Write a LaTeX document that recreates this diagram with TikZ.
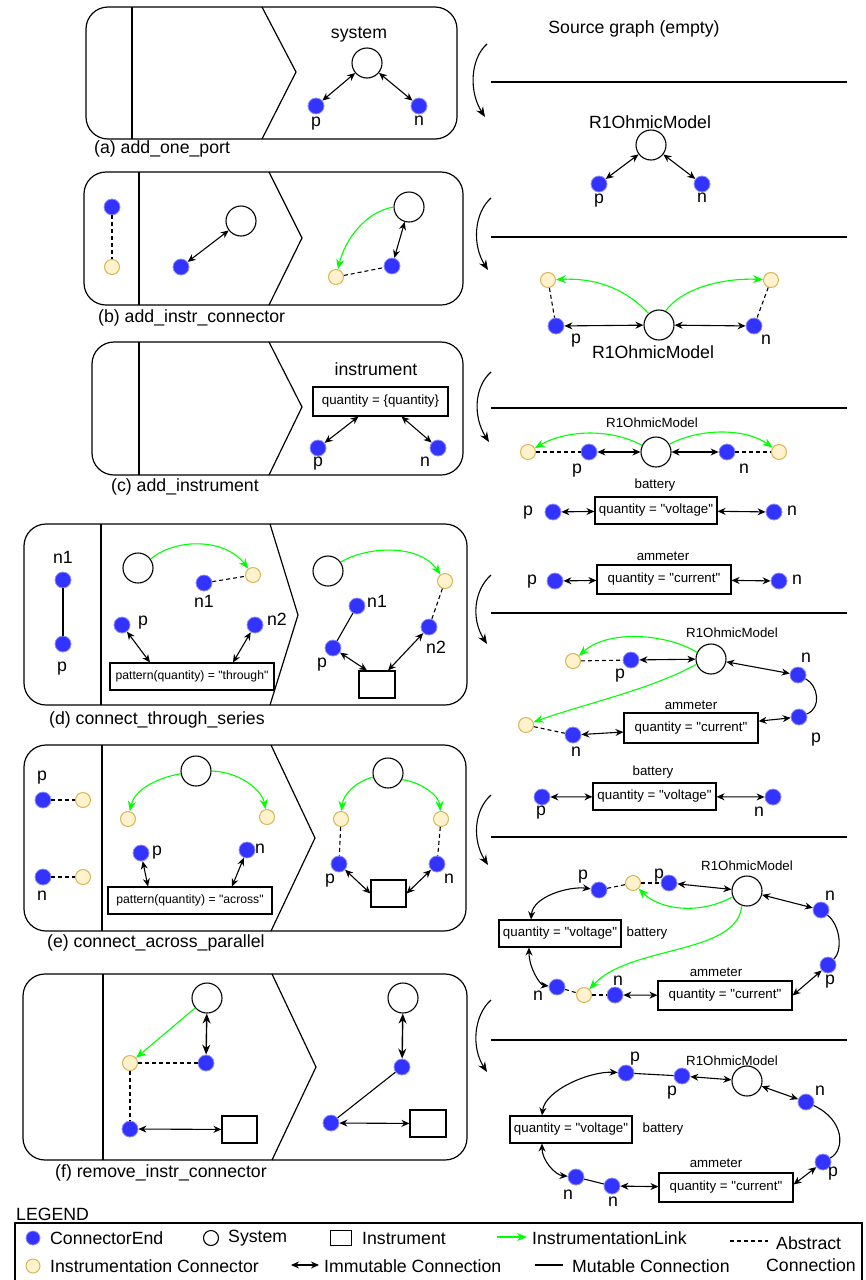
\documentclass[tikz,border=0pt]{standalone}
\usepackage{fontspec}
\setmainfont{Liberation Sans}[Ligatures=TeXOff]
\usetikzlibrary{arrows.meta,calc}

\definecolor{ceblue}{RGB}{51,51,255}
\definecolor{icfill}{RGB}{255,242,204}
\definecolor{icdraw}{RGB}{214,182,86}
\definecolor{linkgreen}{RGB}{0,255,0}

\tikzset{
  fbig/.style={font=\fontsize{17.7}{20}\selectfont},
  fsmall/.style={font=\fontsize{13.3}{15}\selectfont},
  ftiny/.style={font=\fontsize{12.2}{14}\selectfont},
  txt/.style={inner sep=0pt, fbig},
  stxt/.style={inner sep=0pt, fsmall},
  ce/.style={circle, fill=ceblue, draw=ceblue!55!white, line width=0.8pt, minimum size=16pt, inner sep=0pt},
  ic/.style={circle, fill=icfill, draw=icdraw, line width=1pt, minimum size=15pt, inner sep=0pt},
  sys/.style={circle, draw, fill=white, line width=1.1pt, minimum size=30pt, inner sep=0pt},
  inst/.style={draw, fill=white, line width=1.1pt, inner sep=0pt, align=center},
  imm/.style={{Stealth[length=8pt,width=7pt]}-{Stealth[length=8pt,width=7pt]}, line width=1.1pt},
  immbig/.style={{Stealth[length=10pt,width=8pt]}-{Stealth[length=10pt,width=8pt]}, line width=1.4pt},
  mut/.style={line width=1.1pt},
  absc/.style={dash pattern=on 4pt off 3pt, line width=1.1pt},
  ilink/.style={-{Stealth[length=10pt,width=8pt]}, draw=linkgreen, line width=1.1pt},
  panel/.style={draw, line width=1.2pt, rounded corners=22pt},
  divider/.style={line width=1.2pt},
  flow/.style={-{Stealth[length=10pt,width=8pt]}, line width=1.1pt},
}

\begin{document}
\begin{tikzpicture}[x=1pt, y=-1pt]
\useasboundingbox (0,0) rectangle (866,1280);

%% ---------------- (a) add_one_port ----------------
\draw[panel] (86,7) rectangle (457,139);
\draw[divider] (132,7) -- (132,139);
\draw[divider] (262,7) -- (296,72) -- (262,139);
\node[txt] (a-lbl) at (359,35) {system};
\node[sys] (a-sys) at (367,63) {};
\node[ce] (a-p) at (316,106) {};
\node[ce] (a-n) at (419,106) {};
\node[txt] (a-pl) at (316,124) {p};
\node[txt] (a-nl) at (419,121) {n};
\draw[imm] (a-sys) -- (a-p);
\draw[imm] (a-sys) -- (a-n);
\node[txt, anchor=west] (a-cap) at (94,149) {(a) add\_one\_port};

%% result graph after (a)
\node[txt] (src) at (634,29) {Source graph (empty)};
\draw[divider] (491,82) -- (847,82);
\node[txt] (r1-lbl) at (650,122) {R1OhmicModel};
\node[sys] (r1-sys) at (651,145) {};
\node[ce] (r1-p) at (599,184) {};
\node[ce] (r1-n) at (702,184) {};
\node[txt] (r1-pl) at (599,201) {p};
\node[txt] (r1-nl) at (702,198) {n};
\draw[imm] (r1-sys) -- (r1-p);
\draw[imm] (r1-sys) -- (r1-n);
\draw[divider] (491,237) -- (847,237);

%% ---------------- (b) add_instr_connector ----------------
\draw[panel] (84,172) rectangle (463,305);
\draw[divider] (139,172) -- (139,305);
\draw[divider] (269,172) -- (302,238) -- (269,305);
\node[ce] (b-lp) at (112,207) {};
\node[ic] (b-li) at (112,267) {};
\draw[absc] (b-lp) -- (b-li);
\node[sys] (b-ms) at (241,221) {};
\node[ce] (b-mp) at (181,267) {};
\draw[imm] (b-ms) -- (b-mp);
\node[sys] (b-rs) at (409,207) {};
\node[ce] (b-rp) at (392,266) {};
\node[ic] (b-ri) at (336,277) {};
\draw[imm] (b-rs) -- (b-rp);
\draw[absc] (b-ri) -- (b-rp);
\draw[ilink] (b-rs.west) .. controls (365,212) and (345,240) .. (b-ri);
\node[txt, anchor=west] (b-cap) at (98,318) {(b) add\_instr\_connector};

%% result graph after (b)
\node[ic] (r2-il) at (548,280) {};
\node[ic] (r2-ir) at (771,280) {};
\node[ce] (r2-p) at (556,326) {};
\node[ce] (r2-n) at (754,326) {};
\node[sys] (r2-sys) at (659,325) {};
\node[txt] (r2-pl) at (576,341) {p};
\node[txt] (r2-nl) at (766,340) {n};
\node[txt] (r2-lbl) at (653,352) {R1OhmicModel};
\draw[imm] (r2-p) -- (r2-sys);
\draw[imm] (r2-sys) -- (r2-n);
\draw[absc] (r2-il) -- (r2-p);
\draw[absc] (r2-ir) -- (r2-n);
\draw[ilink] (r2-sys.132) .. controls (622,285) and (590,278) .. (r2-il);
\draw[ilink] (r2-sys.65) .. controls (685,285) and (730,278) .. (r2-ir);
\draw[divider] (491,408) -- (847,408);

%% ---------------- (c) add_instrument ----------------
\draw[panel] (92,342) rectangle (463,475);
\draw[divider] (139,342) -- (139,475);
\draw[divider] (269,342) -- (302,407) -- (269,475);
\node[txt] (c-lbl) at (376,369) {instrument};
\node[inst, fsmall, minimum width=135pt, minimum height=29pt] (c-box) at (380.5,401.5) {quantity = \{quantity\}};
\node[ce] (c-p) at (318,448) {};
\node[ce] (c-n) at (438,448) {};
\node[txt] (c-pl) at (318,464) {p};
\node[txt] (c-nl) at (425,462) {n};
\draw[imm] (c-p) -- ($(c-box.south)+(-22,0)$);
\draw[imm] (c-n) -- ($(c-box.south)+(21,0)$);
\node[txt, anchor=west] (c-cap) at (111,487) {(c) add\_instrument};

%% result graph after (c)
\node[stxt] (r3-lbl) at (652,423) {R1OhmicModel};
\node[sys] (r3-sys) at (656,452) {};
\node[ce] (r3-p) at (589,452) {};
\node[ce] (r3-n) at (727,452) {};
\node[ic] (r3-il) at (528,452) {};
\node[ic] (r3-ir) at (779,452) {};
\node[txt] (r3-pl) at (577,471) {p};
\node[txt] (r3-nl) at (744,469) {n};
\draw[imm] (r3-p) -- (r3-sys);
\draw[imm] (r3-sys) -- (r3-n);
\draw[absc] (r3-il) -- (r3-p);
\draw[absc] (r3-n) -- (r3-ir);
\draw[ilink] (r3-sys.155) .. controls (615,430) and (570,428) .. (r3-il);
\draw[ilink] (r3-sys.30) .. controls (700,428) and (745,428) .. (r3-ir);
\node[stxt] (r3-bl) at (655,485) {battery};
\node[inst, fsmall, minimum width=122pt, minimum height=27pt] (r3-bbox) at (656,510.5) {quantity = "voltage"};
\node[ce] (r3-bp) at (553,512) {};
\node[ce] (r3-bn) at (774,512) {};
\node[txt] (r3-bpl) at (528,513) {p};
\node[txt] (r3-bnl) at (792,511) {n};
\draw[imm] (r3-bp) -- (r3-bbox);
\draw[imm] (r3-bbox) -- (r3-bn);
\node[stxt] (r3-al) at (663,556) {ammeter};
\node[inst, fsmall, minimum width=134pt, minimum height=29pt] (r3-abox) at (664,579.5) {quantity = "current"};
\node[ce] (r3-ap) at (555,581) {};
\node[ce] (r3-an) at (779,581) {};
\node[txt] (r3-apl) at (532,582) {p};
\node[txt] (r3-anl) at (797,580) {n};
\draw[imm] (r3-ap) -- (r3-abox);
\draw[imm] (r3-abox) -- (r3-an);
\draw[divider] (491,613) -- (847,613);

%% ---------------- (d) connect_through_series ----------------
\draw[panel] (24,524) rectangle (467,705);
\draw[divider] (101,524) -- (101,705);
\draw[divider] (270,524) -- (298,615) -- (270,705);
\node[txt] (d-ln1l) at (63,557) {n1};
\node[ce] (d-l1) at (63,580) {};
\node[ce] (d-l2) at (63,644) {};
\node[txt] (d-lpl) at (62,669) {p};
\draw[mut] (d-l1) -- (d-l2);
% pattern side
\node[sys] (d-ms) at (138,568) {};
\node[ic] (d-mi) at (253,575) {};
\node[ce] (d-mn1) at (204,583) {};
\node[txt] (d-mn1l) at (204,601) {n1};
\draw[absc] (d-mn1) -- (d-mi);
\draw[ilink] (d-ms.35) .. controls (175,538) and (225,538) .. (d-mi);
\node[ce] (d-mp) at (122,625) {};
\node[txt] (d-mpl) at (143,623) {p};
\node[ce] (d-mn2) at (255,625) {};
\node[txt] (d-mn2l) at (277,619) {n2};
\node[inst, ftiny, minimum width=164pt, minimum height=27pt] (d-mbox) at (192,676.5) {pattern(quantity) = "through"};
\draw[imm] (d-mp) -- ($(d-mbox.north)+(-42,0)$);
\draw[imm] (d-mn2) -- ($(d-mbox.north)+(41,0)$);
% rewritten side
\node[sys] (d-rs) at (328,571) {};
\node[ic] (d-ri) at (445,581) {};
\node[ce] (d-rn1) at (357,606) {};
\node[txt] (d-rn1l) at (377,601) {n1};
\node[ce] (d-rp) at (333,648) {};
\node[txt] (d-rpl) at (322,665) {p};
\node[ce] (d-rn2) at (429,627) {};
\node[txt] (d-rn2l) at (436,647) {n2};
\node[inst, minimum width=36pt, minimum height=27pt] (d-rbox) at (377,684.5) {};
\draw[mut] (d-rn1) -- (d-rp);
\draw[absc] (d-ri) -- (d-rn2);
\draw[ilink] (d-rs.35) .. controls (370,545) and (420,545) .. (d-ri);
\draw[imm] (d-rp) -- ($(d-rbox.north)+(-10,0)$);
\draw[imm] (d-rn2) -- ($(d-rbox.north)+(11,0)$);
\node[txt, anchor=west] (d-cap) at (49,720) {(d) connect\_through\_series};

%% result graph after (d)
\node[stxt] (r4-lbl) at (732,633) {R1OhmicModel};
\node[sys] (r4-sys) at (711,659) {};
\node[ce] (r4-p) at (631,660) {};
\node[txt] (r4-pl) at (620,676) {p};
\node[ic] (r4-i1) at (573,661) {};
\node[ce] (r4-n) at (798,675) {};
\node[txt] (r4-nl) at (806,658) {n};
\node[ce] (r4-p2) at (799,717) {};
\node[txt] (r4-p2l) at (816,740) {p};
\node[stxt] (r4-al) at (691,705) {ammeter};
\node[inst, fsmall, minimum width=134pt, minimum height=30pt] (r4-abox) at (691,728) {quantity = "current"};
\node[ce] (r4-an) at (573,735) {};
\node[txt] (r4-anl) at (576,752) {n};
\node[ic] (r4-i2) at (526,725) {};
\draw[absc] (r4-i1) -- (r4-p);
\draw[imm] (r4-p) -- (r4-sys);
\draw[imm] (r4-sys) -- (r4-n);
\draw[mut] (r4-n) .. controls (818,685) and (822,708) .. (r4-p2);
\draw[imm] (r4-p2) -- (r4-abox);
\draw[imm] (r4-an) -- (r4-abox);
\draw[absc] (r4-i2) -- (r4-an);
\draw[ilink] (r4-sys.155) .. controls (670,635) and (610,628) .. (r4-i1);
\draw[ilink] (r4-sys.200) .. controls (650,690) and (580,705) .. (r4-i2);
\node[stxt] (r4-bl) at (653,772) {battery};
\node[inst, fsmall, minimum width=123pt, minimum height=27pt] (r4-bbox) at (654.5,796.5) {quantity = "voltage"};
\node[ce] (r4-bp) at (542,797) {};
\node[ce] (r4-bn) at (773,797) {};
\node[txt] (r4-bpl) at (541,813) {p};
\node[txt] (r4-bnl) at (759,812) {n};
\draw[imm] (r4-bp) -- (r4-bbox);
\draw[imm] (r4-bbox) -- (r4-bn);
\draw[divider] (491,837) -- (847,837);

%% ---------------- (e) connect_across_parallel ----------------
\draw[panel] (24,745) rectangle (466,931);
\draw[divider] (102,745) -- (102,931);
\draw[divider] (271,745) -- (315,838) -- (271,931);
\node[txt] (e-lpl) at (42,778) {p};
\node[ce] (e-lp) at (43,800) {};
\node[ic] (e-lpi) at (83,800) {};
\draw[absc] (e-lp) -- (e-lpi);
\node[ce] (e-ln) at (43,877) {};
\node[ic] (e-lni) at (83,877) {};
\draw[absc] (e-ln) -- (e-lni);
\node[txt] (e-lnl) at (42,896) {n};
% pattern side
\node[sys] (e-ms) at (196,771) {};
\node[ic] (e-mil) at (128,819) {};
\node[ic] (e-mir) at (267,817) {};
\draw[ilink] (e-ms.190) .. controls (152,779) and (134,792) .. (e-mil);
\draw[ilink] (e-ms.0) .. controls (240,772) and (262,790) .. (e-mir);
\node[ce] (e-mp) at (141,853) {};
\node[txt] (e-mpl) at (157,853) {p};
\node[ce] (e-mn) at (247,850) {};
\node[txt] (e-mnl) at (260,849) {n};
\node[inst, ftiny, minimum width=164pt, minimum height=27pt] (e-mbox) at (190,900.5) {pattern(quantity) = "across"};
\draw[imm] (e-mp) -- ($(e-mbox.north)+(-42,0)$);
\draw[imm] (e-mn) -- ($(e-mbox.north)+(42,0)$);
% rewritten side
\node[sys] (e-rs) at (388,773) {};
\node[ic] (e-ril) at (341,819) {};
\node[ic] (e-rir) at (441,819) {};
\node[ce] (e-rp) at (339,864) {};
\node[txt] (e-rpl) at (330,881) {p};
\node[ce] (e-rn) at (437,864) {};
\node[txt] (e-rnl) at (449,879) {n};
\node[inst, minimum width=35pt, minimum height=27pt] (e-rbox) at (388.5,893.5) {};
\draw[ilink] (e-rs.195) .. controls (355,782) and (343,795) .. (e-ril);
\draw[ilink] (e-rs.-25) .. controls (420,782) and (439,795) .. (e-rir);
\draw[absc] (e-ril) -- (e-rp);
\draw[absc] (e-rir) -- (e-rn);
\draw[imm] (e-rp) -- (e-rbox.west);
\draw[imm] (e-rn) -- (e-rbox.east);
\node[txt, anchor=west] (e-cap) at (47,943) {(e) connect\_across\_parallel};

%% result graph after (e)
\node[stxt] (r5-lbl) at (747,866) {R1OhmicModel};
\node[sys] (r5-sys) at (747,891) {};
\node[ce] (r5-bp) at (599,890) {};
\node[txt] (r5-bpl) at (583,877) {p};
\node[ic] (r5-i1) at (633,883) {};
\node[ce] (r5-rp) at (669,883) {};
\node[txt] (r5-rpl) at (659,876) {p};
\node[ce] (r5-rn) at (821,910) {};
\node[txt] (r5-rnl) at (830,896) {n};
\node[ce] (r5-rp2) at (828,965) {};
\node[txt] (r5-rp2l) at (830,982) {p};
\node[stxt] (r5-al) at (716,972) {ammeter};
\node[inst, fsmall, minimum width=134pt, minimum height=29pt] (r5-abox) at (725,995.5) {quantity = "current"};
\node[ce] (r5-an) at (615,995) {};
\node[txt] (r5-anl) at (618,981) {n};
\node[ic] (r5-i2) at (584,995) {};
\node[ce] (r5-bn) at (557,987) {};
\node[txt] (r5-bnl) at (538,996) {n};
\node[inst, fsmall, minimum width=122pt, minimum height=27pt] (r5-bbox) at (560,933.5) {quantity = "voltage"};
\node[stxt] (r5-bl) at (647,933) {battery};
\draw[absc] (r5-bp) -- (r5-i1);
\draw[absc] (r5-i1) -- (r5-rp);
\draw[absc] (r5-bn) -- (r5-i2);
\draw[absc] (r5-i2) -- (r5-an);
\draw[imm] (r5-rp) -- (r5-sys);
\draw[imm] (r5-sys) -- (r5-rn);
\draw[mut] (r5-rn) .. controls (840,925) and (843,950) .. (r5-rp2);
\draw[imm] (r5-rp2) -- (r5-abox.east);
\draw[imm] (r5-an) -- (r5-abox);
\draw[imm] (r5-bp) .. controls (570,886) and (533,896) .. ($(r5-bbox.north)+(-29,0)$);
\draw[imm] ($(r5-bbox.south)+(-31,0)$) .. controls (529,968) and (540,985) .. (r5-bn);
\draw[ilink] (r5-sys.202) .. controls (700,915) and (660,910) .. (r5-i1);
\draw[ilink] (r5-sys.250) .. controls (738,955) and (630,945) .. (r5-i2);
\draw[divider] (491,1040) -- (847,1040);

%% ---------------- (f) remove_instr_connector ----------------
\draw[panel] (23,974) rectangle (467,1160);
\draw[divider] (103,974) -- (103,1160);
\draw[divider] (272,974) -- (316,1067) -- (272,1160);
% pattern side
\node[sys] (f-ms) at (207,998) {};
\node[ic] (f-mi) at (130,1063) {};
\node[ce] (f-m1) at (206,1063) {};
\node[ce] (f-m2) at (130,1129) {};
\node[inst, minimum width=35pt, minimum height=27pt] (f-mbox) at (239.5,1129.5) {};
\draw[ilink] (f-ms) -- (f-mi);
\draw[immbig] (f-ms) -- (f-m1);
\draw[absc] (f-mi) -- (f-m1);
\draw[absc] (f-mi) -- (f-m2);
\draw[imm] (f-m2) -- (f-mbox);
% rewritten side
\node[sys] (f-rs) at (403,998) {};
\node[ce] (f-r1) at (402,1067) {};
\node[ce] (f-r2) at (331,1123) {};
\node[inst, minimum width=36pt, minimum height=27pt] (f-rbox) at (428,1123.5) {};
\draw[immbig] (f-rs) -- (f-r1);
\draw[mut] (f-r1) -- (f-r2);
\draw[imm] (f-r2) -- (f-rbox);
\node[txt, anchor=west] (f-cap) at (55,1173) {(f) remove\_instr\_connector};

%% result graph after (f)
\node[stxt] (r6-lbl) at (732,1061) {R1OhmicModel};
\node[sys] (r6-sys) at (747,1081) {};
\node[ce] (r6-bp) at (626,1073) {};
\node[txt] (r6-bpl) at (635,1059) {p};
\node[ce] (r6-rp) at (682,1076) {};
\node[txt] (r6-rpl) at (672,1093) {p};
\node[ce] (r6-rn) at (806,1102) {};
\node[txt] (r6-rnl) at (820,1091) {n};
\node[ce] (r6-rp2) at (823,1162) {};
\node[txt] (r6-rp2l) at (833,1174) {p};
\node[stxt] (r6-al) at (716,1163) {ammeter};
\node[inst, fsmall, minimum width=134pt, minimum height=29pt] (r6-abox) at (726,1187.5) {quantity = "current"};
\node[ce] (r6-an) at (612,1186) {};
\node[txt] (r6-anl) at (613,1202) {n};
\node[ce] (r6-bn) at (576,1177) {};
\node[txt] (r6-bnl) at (568,1195) {n};
\node[inst, fsmall, minimum width=122pt, minimum height=27pt] (r6-bbox) at (571,1129.5) {quantity = "voltage"};
\node[stxt] (r6-bl) at (663,1129) {battery};
\draw[mut] (r6-bp) -- (r6-rp);
\draw[imm] (r6-rp) -- (r6-sys);
\draw[imm] (r6-sys) -- (r6-rn);
\draw[mut] (r6-rn) .. controls (845,1120) and (845,1150) .. (r6-rp2);
\draw[imm] (r6-rp2) -- ($(r6-abox.east)+(0,-3)$);
\draw[imm] (r6-an) -- (r6-abox);
\draw[mut] (r6-bn) -- (r6-an);
\draw[imm] (r6-bp) .. controls (590,1071) and (545,1090) .. ($(r6-bbox.north)+(-29,0)$);
\draw[imm] ($(r6-bbox.south)+(-29,0)$) .. controls (542,1160) and (555,1175) .. (r6-bn);

%% ---------------- step arrows between the columns ----------------
\coordinate (s1a) at (487,44);   \coordinate (s1b) at (485,117);
\coordinate (s2a) at (491,198);  \coordinate (s2b) at (488,270);
\coordinate (s3a) at (491,372);  \coordinate (s3b) at (489,442);
\coordinate (s4a) at (491,575);  \coordinate (s4b) at (487,644);
\coordinate (s5a) at (491,795);  \coordinate (s5b) at (488,865);
\coordinate (s6a) at (491,1000); \coordinate (s6b) at (487,1072);
\foreach \s in {1,...,6}{
  \draw[flow] (s\s a) .. controls ($(s\s a)+(-17,15)$) and ($(s\s b)+(-16,-25)$) .. (s\s b);
}

%% ---------------- legend ----------------
\node[txt, anchor=west] (leg-title) at (16,1214) {LEGEND};
\draw[line width=1.2pt] (15,1223) rectangle (862,1292);
\node[ce, minimum size=14pt] (leg-ce) at (33,1238) {};
\node[txt, anchor=west] (leg-cet) at (50,1238) {ConnectorEnd};
\node[sys, minimum size=15pt] (leg-sys) at (211,1238) {};
\node[txt, anchor=west] (leg-syst) at (228,1238) {System};
\node[inst, minimum width=21pt, minimum height=15pt] (leg-inst) at (341,1238) {};
\node[txt, anchor=west] (leg-instt) at (362,1238) {Instrument};
\coordinate (leg-la) at (497,1237); \coordinate (leg-lb) at (527,1237);
\draw[ilink] (leg-la) -- (leg-lb);
\node[txt, anchor=west] (leg-lt) at (532,1238) {InstrumentationLink};
\coordinate (leg-aa) at (730,1241); \coordinate (leg-ab) at (768,1241);
\draw[absc] (leg-aa) -- (leg-ab);
\node[txt, anchor=west] (leg-at1) at (776,1243) {Abstract};
\node[txt, anchor=west] (leg-at2) at (766,1265) {Connection};
\node[ic, minimum size=14pt] (leg-ic) at (33,1266) {};
\node[txt, anchor=west] (leg-ict) at (50,1266) {Instrumentation Connector};
\coordinate (leg-ia) at (291,1265); \coordinate (leg-ib) at (319,1265);
\draw[imm] (leg-ia) -- (leg-ib);
\node[txt, anchor=west] (leg-it) at (324,1266) {Immutable Connection};
\coordinate (leg-ma) at (535,1265); \coordinate (leg-mb) at (563,1265);
\draw[mut] (leg-ma) -- (leg-mb);
\node[txt, anchor=west] (leg-mt) at (572,1266) {Mutable Connection};
\end{tikzpicture}
\end{document}
